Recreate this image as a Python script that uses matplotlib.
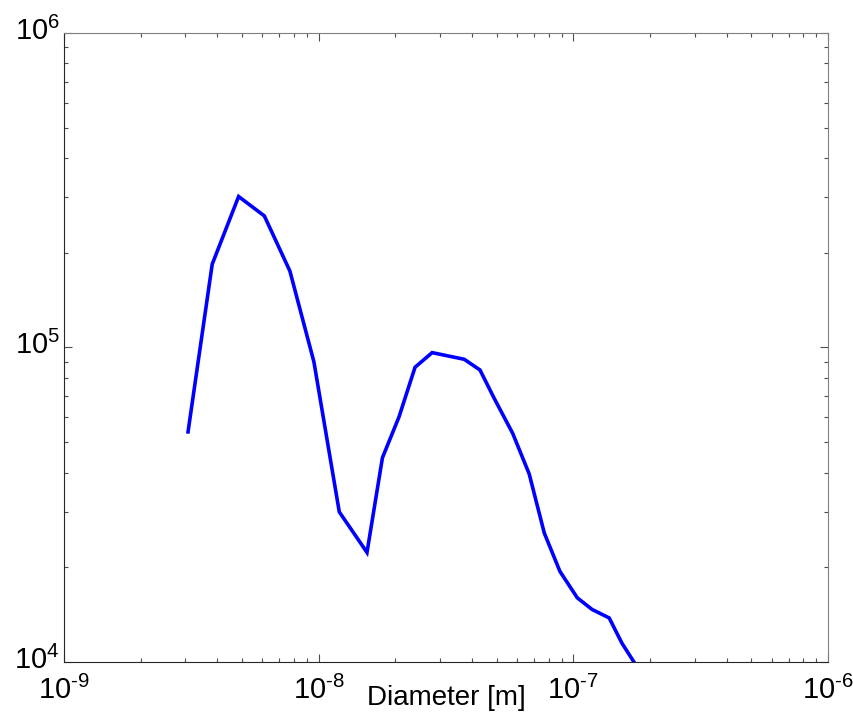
import matplotlib
matplotlib.use('Agg')
import matplotlib.pyplot as plt
import matplotlib.transforms as mtransforms
from matplotlib.ticker import LogLocator, NullFormatter, FixedLocator, FixedFormatter

plt.rcParams['font.family'] = ['Liberation Sans', 'DejaVu Sans']
plt.rcParams['mathtext.fontset'] = 'custom'
plt.rcParams['mathtext.rm'] = 'Liberation Sans'

# particle size distribution
diameter = [3.07e-9, 3.82e-9, 4.85e-9, 6.12e-9, 7.71e-9, 9.58e-9, 1.205e-8,
            1.548e-8, 1.78e-8, 2.07e-8, 2.39e-8, 2.79e-8, 3.73e-8, 4.30e-8,
            4.89e-8, 5.78e-8, 6.71e-8, 7.69e-8, 8.86e-8, 1.036e-7, 1.183e-7,
            1.383e-7, 1.552e-7, 1.93e-7]
number = [5.39e4, 1.84e5, 3.02e5, 2.62e5, 1.75e5, 9.0e4, 3.0e4,
          2.23e4, 4.46e4, 6.03e4, 8.65e4, 9.63e4, 9.17e4, 8.48e4,
          6.89e4, 5.33e4, 3.96e4, 2.57e4, 1.94e4, 1.60e4, 1.47e4,
          1.38e4, 1.147e4, 8.7e3]

xticks = [1e-9, 1e-8, 1e-7, 1e-6]
xticklabels = [r'$\mathregular{10^{\text{-}9}}$', r'$\mathregular{10^{\text{-}8}}$',
               r'$\mathregular{10^{\text{-}7}}$', r'$\mathregular{10^{\text{-}6}}$']
yticks = [1e4, 1e5, 1e6]
yticklabels = [r'$\mathregular{10^{4}}$', r'$\mathregular{10^{5}}$',
               r'$\mathregular{10^{6}}$']

fig = plt.figure(figsize=(8.54, 7.2), dpi=100)
ax = fig.add_axes([0.0749, 0.0806, 0.8947, 0.8736])

ax.plot(diameter, number, color='#0000ff', linewidth=2.6, solid_joinstyle='miter')

ax.set_xscale('log')
ax.set_yscale('log')
ax.set_xlim(1e-9, 1e-6)
ax.set_ylim(1e4, 1e6)

ax.xaxis.set_major_locator(FixedLocator(xticks))
ax.xaxis.set_major_formatter(FixedFormatter(xticklabels))
ax.yaxis.set_major_locator(FixedLocator(yticks))
ax.yaxis.set_major_formatter(FixedFormatter(yticklabels))
ax.xaxis.set_minor_locator(LogLocator(base=10, subs=range(2, 10), numticks=20))
ax.yaxis.set_minor_locator(LogLocator(base=10, subs=range(2, 10), numticks=20))
ax.xaxis.set_minor_formatter(NullFormatter())
ax.yaxis.set_minor_formatter(NullFormatter())

ax.tick_params(which='both', direction='in', top=True, right=True,
               colors='0.3', labelcolor='black', labelsize=21)
ax.tick_params(which='major', length=6, width=0.8)
ax.tick_params(which='minor', length=3, width=0.8)
ax.tick_params(axis='x', pad=10)
ax.tick_params(axis='y', pad=3)

for side in ['left', 'bottom']:
    ax.spines[side].set_color('0.15')
for side in ['top', 'right']:
    ax.spines[side].set_color('0.5')

# keep the "10" of each y label centred on its tick
shift = mtransforms.ScaledTranslation(0, 0.05, fig.dpi_scale_trans)
for lab in ax.get_yticklabels():
    lab.set_transform(lab.get_transform() + shift)

ax.set_xlabel('Diameter [m]', fontsize=20)
ax.xaxis.set_label_coords(0.5, -0.037)

fig.savefig('out.png', dpi=100)
